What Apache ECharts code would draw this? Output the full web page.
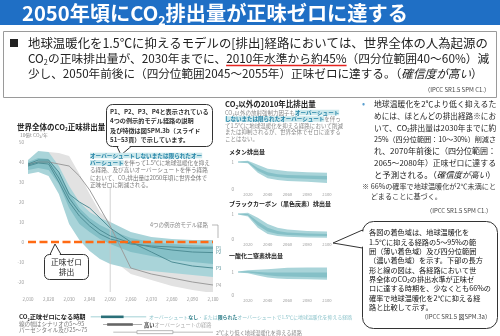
<!DOCTYPE html>
<html><head><meta charset="utf-8">
<script src="https://cdn.jsdelivr.net/npm/echarts@6.0.0/dist/echarts.min.js"></script>
<style>html,body{margin:0;padding:0;background:#fff;}#c{width:500px;height:336px;}</style>
</head><body><div id="c"></div>
<script>
window.onerror = function (m) { const d = document.createElement('div'); d.style.cssText = 'position:absolute;left:0;top:150px;color:red;font-size:9px;background:#fff;width:500px'; d.textContent = 'ERR ' + m; document.body.appendChild(d); };
// ---------------- data ----------------
const years = [2010, 2015, 2020, 2025, 2030, 2035, 2040, 2045, 2050, 2060, 2070, 2080, 2090, 2100];
const co2TealOuterUpper = [41, 45.5, 45, 38, 28, 20, 15, 12, 10, 5, 2.5, 1.5, 1, 1];
const co2TealOuterLower = [34, 35, 33, 24, 9, 1, -4.5, -8.5, -11, -13.5, -14.5, -15.5, -16.5, -17.5];
const co2TealInnerUpper = [40, 42, 41.5, 35, 25, 17, 12, 8.5, 6, 2, 0, -1, -1.5, -2];
const co2TealInnerLower = [36, 37, 36, 29, 17, 9, 5, 1.5, -1, -5, -7, -9, -10, -11];
const co2GrayUpper = [40, 43, 45, 44.5, 43, 34, 24, 15, 10, 4, 2, 1, 1, 1];
const co2GrayLower = [36, 37, 36, 33, 22, 10, 0, -5, -8, -16, -19, -22, -24, -25.5];
const pathP1 = [38, 39.5, 39, 30, 20, 13, 8, 4, 1.5, -1, -2, -2.5, -3, -3];
const pathP2 = [38.5, 40, 40, 32, 22, 15, 10, 6, 3, -0.5, -2.5, -4, -5, -5.3];
const pathP3 = [39, 41, 41, 35, 24, 20, 17, 12, 7, 0, -5, -10, -12, -13];
const pathP4 = [39, 40, 40, 39, 38, 33, 26, 17, 8, -13, -16, -18, -20, -21.5];
const pathNames = ['P1', 'P2', 'P3', 'P4'];
const netZeroLevel = 0;
const markYear = 2050;

const subYears = [2010, 2020, 2030, 2040, 2050, 2060, 2080, 2100];
const ch4OuterUpper = [1.02, 1.05, 0.9, 0.75, 0.7, 0.66, 0.62, 0.6];
const ch4OuterLower = [0.98, 0.95, 0.6, 0.4, 0.33, 0.3, 0.27, 0.22];
const ch4InnerUpper = [1.01, 1.02, 0.78, 0.62, 0.55, 0.52, 0.5, 0.48];
const ch4InnerLower = [0.99, 0.98, 0.68, 0.5, 0.44, 0.41, 0.38, 0.35];
const bcOuterUpper = [1.02, 1.05, 0.85, 0.6, 0.45, 0.38, 0.32, 0.3];
const bcOuterLower = [0.98, 0.9, 0.45, 0.2, 0.12, 0.09, 0.06, 0.05];
const bcInnerUpper = [1.01, 1.0, 0.7, 0.45, 0.32, 0.26, 0.22, 0.2];
const bcInnerLower = [0.99, 0.95, 0.55, 0.3, 0.2, 0.16, 0.13, 0.12];
const n2oOuterUpper = [1.02, 1.08, 1.1, 1.12, 1.15, 1.18, 1.2, 1.2];
const n2oOuterLower = [0.98, 0.95, 0.85, 0.76, 0.72, 0.7, 0.68, 0.66];
const n2oInnerUpper = [1.01, 1.03, 1.0, 0.98, 0.98, 0.98, 0.98, 0.98];
const n2oInnerLower = [0.99, 0.98, 0.92, 0.86, 0.82, 0.8, 0.78, 0.76];

const nzRows = ['1.5℃（オーバーシュートなし・限定的）', '高いオーバーシュート', '2℃未満'];
const nzP5 = [2040.5, 2046.5, 2051.5];
const nzP25 = [2045.5, 2048.5, 2063];
const nzP75 = [2056.5, 2061, 2080.5];
const nzP95 = [2067.5, 2065.5, 2100];

// ---------------- helpers ----------------
const FF = '"Noto Sans CJK JP","Noto Sans",sans-serif';
const mctx = document.createElement('canvas').getContext('2d');
function tw(s, size, weight) { mctx.font = (weight || 'normal') + ' ' + size + 'px ' + FF; return mctx.measureText(s).width; }
function strip(s) { return s.replace(/\{[a-z]+\|([^}]*)\}/g, '$1'); }
function fit(s, base, maxW, weight) { const w = tw(strip(s), base, weight); return w > maxW ? base * maxW / w : base; }
function fitAll(arr, base, maxW, weight) { return Math.min.apply(null, arr.map(s => fit(s, base, maxW, weight))); }

const G = [];
function T(x, y, text, o) {
  G.push({ type: 'text', x: x, y: y, silent: true, z: 100,
    style: Object.assign({ text: text, fontFamily: FF, fontSize: 8, fill: '#222', align: 'left', verticalAlign: 'middle' }, o || {}) });
}
function R(x, y, w, h, o) { G.push({ type: 'rect', silent: true, z: 90, shape: Object.assign({ x: x, y: y, width: w, height: h }, o.shape || {}), style: o.style }); }
function L(pts, o) { G.push({ type: 'polyline', silent: true, z: 95, shape: { points: pts }, style: Object.assign({ fill: null, stroke: '#333', lineWidth: 1 }, o || {}) }); }
function P(pts, o) { G.push({ type: 'polygon', silent: true, z: 91, shape: { points: pts }, style: o }); }
function sub(fs, extra) { return Object.assign({ fontSize: fs * 0.62, fontFamily: FF, verticalAlign: 'bottom', lineHeight: fs * 0.8 }, extra || {}); }

// ---------------- title ----------------
R(0, 0, 500, 25, { style: { fill: '#1f6fc5' } });
{
  const fs = Math.min(21, 21 * 386 / (tw('2050年頃にCO排出量が正味ゼロに達する', 21, 'bold') + tw('2', 13, 'bold')));
  T(22, 13.5, '2050年頃にCO{s|2}排出量が正味ゼロに達する', { fontSize: fs, fontWeight: 'bold', fill: '#fff', lineHeight: fs * 1.3,
    rich: { s: sub(fs, { fill: '#fff', fontWeight: 'bold' }) } });
}
// ---------------- top box ----------------
R(3.5, 31.5, 493, 66, { style: { fill: null, stroke: '#9a9a9a', lineWidth: 1 } });
T(9, 43, '■', { fontSize: 10 });
{
  const l1 = '地球温暖化を1.5℃に抑えるモデルの[排出]経路においては、世界全体の人為起源の';
  T(28, 43, l1, { fontSize: fit(l1, 12.5, 460) });
  const a = 'CO', b = 'の正味排出量が、2030年までに、', u = '2010年水準から約45%', c = '（四分位範囲40～60%）減';
  let fs = 12.5;
  const w0 = tw(a, fs) + tw('2', fs * 0.62) + tw(b, fs) + tw(u, fs) + tw(c, fs);
  if (w0 > 462) fs = fs * 462 / w0;
  T(28, 58.5, a + '{s|2}' + b + u + c, { fontSize: fs, lineHeight: fs * 1.3, rich: { s: sub(fs, { fill: '#222' }) } });
  const us = 28 + tw(a, fs) + tw('2', fs * 0.62) + tw(b, fs);
  const ue = us + tw(u, fs);
  L([[us, 65.5], [ue, 65.5]], { stroke: '#e5231f', lineWidth: 1.3 });
  const l3 = '少し、2050年前後に（四分位範囲2045～2055年）正味ゼロに達する。（{i|確信度が高い}）';
  const f3 = fit(l3, 12.5, 455);
  T(28, 74, l3, { fontSize: f3, rich: { i: { fontStyle: 'italic', fontSize: f3, fontFamily: FF, fill: '#222' } } });
  T(490, 90, '（IPCC SR1.5 SPM C1.）', { fontSize: 6, fill: '#444', align: 'right' });
}
// ---------------- main chart annotations ----------------
T(17, 127, '世界全体のCO{s|2}正味排出量', { fontSize: 7.5, fontWeight: 'bold', lineHeight: 9.5, rich: { s: sub(7.5, { fontWeight: 'bold', fill: '#222' }) } });
T(20, 135.5, '10億t CO₂/年', { fontSize: 4.8, fill: '#888' });
R(106.5, 104.5, 106, 42, { shape: { r: 6 }, style: { fill: '#fff', stroke: '#333', lineWidth: 1 } });
P([[117, 146.5], [121, 155], [131, 146.5]], { fill: '#fff', stroke: '#333', lineWidth: 1 });
L([[118.3, 146.5], [129.7, 146.5]], { stroke: '#fff', lineWidth: 1.6 });
{
  const bl = ['P1、P2、P3、P4と表示されている', '4つの例示的モデル経路の説明', '及び特徴は図SPM.3b（スライド', '51~53頁）で示しています。'];
  const fs = fitAll(bl, 7.8, 99, 'bold');
  bl.forEach((s, i) => T(110, 111.5 + i * 9.5, s, { fontSize: fs, fontWeight: 'bold', fill: '#333' }));
}
{
  const tl = ['{h|オーバーシュートしないまたは限られたオー}', '{h|バーシュート}を伴って1.5℃に地球温暖化を抑え', 'る経路、及び高いオーバーシュートを伴う経路', 'において、CO₂排出量は2050年頃に世界全体で', '正味ゼロに削減される。'];
  const fs = fitAll(tl, 5.8, 120);
  tl.forEach((s, i) => T(90, 155.5 + i * 7.4, s, { fontSize: fs, fill: '#777',
    rich: { h: { fontSize: fs, fontFamily: FF, fill: '#2483a6', fontWeight: 'bold', backgroundColor: '#cbe8ec' } } }));
}
T(150, 225, '4つの例示的モデル経路', { fontSize: 5.5, fill: '#888' });
L([[212, 225], [218, 225], [218, 238]], { stroke: '#999', lineWidth: 0.7 });
R(44.5, 254.5, 44, 25, { shape: { r: 5 }, style: { fill: '#fff', stroke: '#333', lineWidth: 1 } });
P([[50, 254.5], [55, 244], [61, 254.5]], { fill: '#fff', stroke: '#333', lineWidth: 1 });
L([[51.2, 254.5], [59.8, 254.5]], { stroke: '#fff', lineWidth: 1.6 });
T(66.5, 262, '正味ゼロ', { fontSize: 7.8, align: 'center', fill: '#222' });
T(66.5, 272.5, '排出', { fontSize: 7.8, align: 'center', fill: '#222' });

// ---------------- middle column ----------------
T(225, 104.5, 'CO{s|2}以外の2010年比排出量', { fontSize: 7.5, fontWeight: 'bold', lineHeight: 9.5, rich: { s: sub(7.5, { fontWeight: 'bold', fill: '#222' }) } });
{
  const ml = ['CO₂以外の放射強制力因子も{h|オーバーシュート}', '{h|しないまたは限られたオーバーシュート}を伴っ', 'て1.5℃に地球温暖化を抑える経路において削減', 'または抑制されるが、世界全体でゼロに達する', 'ことはない。'];
  const fs = fitAll(ml, 5.6, 118);
  ml.forEach((s, i) => T(225, 112.5 + i * 6.6, s, { fontSize: fs, fill: '#888',
    rich: { h: { fontSize: fs, fontFamily: FF, fill: '#2483a6', fontWeight: 'bold', backgroundColor: '#cbe8ec' } } }));
}
T(229, 152, 'メタン排出量', { fontSize: 6, fontWeight: 'bold' });
T(229, 204, 'ブラックカーボン（黒色炭素）排出量', { fontSize: 6, fontWeight: 'bold' });
T(229, 256, '一酸化二窒素排出量', { fontSize: 6, fontWeight: 'bold' });

// ---------------- right column ----------------
T(362, 104, '•', { fontSize: 9, fill: '#5b9fcf' });
{
  const rl = ['地球温暖化を2℃より低く抑えるた', 'めには、ほとんどの排出経路※にお', 'いて、CO₂排出量は2030年までに約', '25%（四分位範囲：10～30%）削減さ', 'れ、2070年前後に（四分位範囲：', '2065～2080年）正味ゼロに達する', 'と予測される。（{i|確信度が高い}）'];
  rl.forEach((s, i) => { const fs = fit(s, 8.4, 122); T(374, 104 + i * 11.8, s, { fontSize: fs, fill: '#222',
    rich: { i: { fontStyle: 'italic', fontSize: fs, fontFamily: FF, fill: '#222' } } }); });
  const nl = ['※ 66%の確率で地球温暖化が2℃未満にと', '　 どまることに基づく。'];
  const f2 = fitAll(nl, 7.2, 134);
  nl.forEach((s, i) => T(362, 186 + i * 10, s, { fontSize: f2, fill: '#333' }));
  T(492, 211, '（IPCC SR1.5 SPM C1.）', { fontSize: 6, fill: '#444', align: 'right' });
}
R(362.5, 221.5, 135, 107, { shape: { r: 11 }, style: { fill: '#fff', stroke: '#333', lineWidth: 1 } });
P([[362.5, 230], [333, 243], [362.5, 248]], { fill: '#fff', stroke: '#333', lineWidth: 1 });
L([[362.5, 231.3], [362.5, 246.7]], { stroke: '#fff', lineWidth: 1.6 });
{
  const bl = ['各図の着色域は、地球温暖化を', '1.5℃に抑える経路の5～95%の範', '囲（薄い着色域）及び四分位範囲', '（濃い着色域）を示す。下部の長方', '形と線の図は、各経路において世', '界全体のCO₂の排出水準が正味ゼ', 'ロに達する時期を、少なくとも66%の', '確率で地球温暖化を2℃に抑える経', '路と比較して示す。'];
  const fs = fitAll(bl, 8, 122);
  bl.forEach((s, i) => T(369, 232.5 + i * 9.35, s, { fontSize: fs, fill: '#111' }));
  T(491, 317, '（IPCC SR1.5 図SPM.3a）', { fontSize: 6, fill: '#444', align: 'right' });
}
// ---------------- bottom legend texts ----------------
T(19, 317, 'CO{s|2}正味ゼロになる時期', { fontSize: 6.2, fontWeight: 'bold', lineHeight: 8, rich: { s: sub(6.2, { fontWeight: 'bold', fill: '#222' }) } });
T(19, 323.5, '線の幅はシナリオの5～95', { fontSize: 5.6, fill: '#777' });
T(19, 330, 'パーセンタイル及び25～75', { fontSize: 5.6, fill: '#777' });
{
  const s1 = 'オーバーシュート{b|なし}・または{b|限られた}オーバーシュートで1.5℃に地球温暖化を抑える経路';
  const f1 = fit(s1, 5.2, 203);
  T(149, 317, s1, { fontSize: f1, fill: '#8fc5cc', rich: { b: { fontSize: f1, fontFamily: FF, fontWeight: 'bold', fill: '#2b7c87' } } });
  T(144, 325, '{b|高い}オーバーシュートの経路', { fontSize: 5.2, fill: '#aaa', rich: { b: { fontSize: 5.2, fontFamily: FF, fontWeight: 'bold', fill: '#333' } } });
  T(216, 333, '2℃より低く地球温暖化を抑える経路', { fontSize: 5.2, fill: '#888' });
}

// ---------------- chart option ----------------
function pairs(xs, ys) { return xs.map((x, i) => [x, ys[i]]); }
// band polygon drawn through the axis scales (api.coord)
function band(xs, lo, hi, color, ai, z) {
  return { type: 'custom', xAxisIndex: ai, yAxisIndex: ai, silent: true, z: z || 2, clip: true,
    data: xs.map((x, i) => [x, lo[i], hi[i]]),
    encode: { x: 0, y: [1, 2] },
    renderItem: function (params, api) {
      if (params.dataIndex !== 0) return null;
      const up = [], dn = [];
      for (let i = 0; i < xs.length; i++) {
        up.push(api.coord([xs[i], hi[i]]));
        dn.push(api.coord([xs[i], lo[i]]));
      }
      return { type: 'polygon', shape: { points: up.concat(dn.reverse()) }, style: { fill: color, stroke: null } };
    } };
}
function pline(vals, name, color) {
  return { type: 'line', xAxisIndex: 0, yAxisIndex: 0, data: pairs(years, vals), symbol: 'none', silent: true, z: 5,
    lineStyle: { color: color, width: 1 },
    endLabel: { show: true, formatter: name, fontSize: 4.5, color: color, distance: 3, fontFamily: FF } };
}
const LIGHT = '#a9d4d9', DARK = '#85c0c7', GRAY = '#e2e2e2';
const xMain = { type: 'value', gridIndex: 0, min: 2010, max: 2100, interval: 10, axisLine: { show: false }, axisTick: { show: false }, splitLine: { show: false },
  axisLabel: { fontSize: 4.5, color: '#999', margin: 5, fontFamily: FF } };
function xSmall(i) {
  return { type: 'value', gridIndex: i, min: 2010, max: 2100, interval: 10, axisLine: { show: false }, axisTick: { show: false }, splitLine: { show: false },
    axisLabel: { show: true, fontSize: 4.2, color: '#999', margin: 3, fontFamily: FF, formatter: function (v) { return v % 20 === 0 ? String(v) : ''; } } };
}
function ySmall(i, max) {
  return { type: 'value', gridIndex: i, min: 0, max: max, interval: 1, axisLine: { show: false }, axisTick: { show: false }, splitLine: { show: false },
    axisLabel: { show: true, fontSize: 4.5, color: '#999', margin: 4, fontFamily: FF, formatter: function (v) { return (v === 0 || v === 1) ? String(v) : ''; } } };
}
const nzStyles = [
  { thin: '#8cc5cc', fill: '#2a6f78', stroke: null, lw: 0, h: 2.6 },
  { thin: '#9a9a9a', fill: '#666', stroke: null, lw: 0, h: 2.6 },
  { thin: '#aaa', fill: '#fff', stroke: '#999', lw: 0.7, h: 3 }
];

const option = {
  animation: false,
  grid: [
    { left: 28, top: 142, width: 185, height: 150 },
    { left: 238, top: 156.6, width: 89, height: 32.4 },
    { left: 238, top: 209, width: 89, height: 30 },
    { left: 238, top: 265.1, width: 89, height: 29.9 },
    { left: 28, top: 313, width: 185, height: 24 }
  ],
  xAxis: [
    xMain, xSmall(1), xSmall(2), xSmall(3),
    { type: 'value', gridIndex: 4, min: 2010, max: 2100, show: false }
  ],
  yAxis: [
    { type: 'value', gridIndex: 0, min: -25, max: 50, interval: 5, axisLine: { show: false }, axisTick: { show: false }, splitLine: { show: false },
      axisLabel: { fontSize: 4.5, color: '#999', margin: 4, fontFamily: FF, formatter: function (v) { return v % 10 === 0 ? String(v) : ''; } } },
    ySmall(1, 1.2), ySmall(2, 1.2), ySmall(3, 1.3),
    { type: 'category', gridIndex: 4, data: nzRows, inverse: true, show: false }
  ],
  graphic: { elements: G },
  series: [
    band(years, co2GrayLower, co2GrayUpper, GRAY, 0, 1),
    band(years, co2TealOuterLower, co2TealOuterUpper, LIGHT, 0, 2),
    band(years, co2TealInnerLower, co2TealInnerUpper, DARK, 0, 3),
    pline(pathP4, pathNames[3], '#9c9c9c'), pline(pathP3, pathNames[2], '#4f8e96'), pline(pathP2, pathNames[1], '#4f8e96'), pline(pathP1, pathNames[0], '#4f8e96'),
    { type: 'line', xAxisIndex: 0, yAxisIndex: 0, symbol: 'none', silent: true, z: 4,
      data: [[markYear, -25], [markYear, 27]], lineStyle: { color: '#c8c8c8', width: 0.8 } },
    { type: 'line', xAxisIndex: 0, yAxisIndex: 0, symbol: 'none', silent: true, z: 10,
      data: [[years[0], netZeroLevel], [years[years.length - 1], netZeroLevel]],
      lineStyle: { color: '#ff6a13', width: 2.5, type: [8, 3.5] } },
    band(subYears, ch4OuterLower, ch4OuterUpper, LIGHT, 1, 2),
    band(subYears, ch4InnerLower, ch4InnerUpper, DARK, 1, 3),
    band(subYears, bcOuterLower, bcOuterUpper, LIGHT, 2, 2),
    band(subYears, bcInnerLower, bcInnerUpper, DARK, 2, 3),
    band(subYears, n2oOuterLower, n2oOuterUpper, LIGHT, 3, 2),
    band(subYears, n2oInnerLower, n2oInnerUpper, DARK, 3, 3),
    { type: 'custom', xAxisIndex: 4, yAxisIndex: 4, silent: true,
      data: nzRows.map((r, i) => [i, nzP5[i], nzP25[i], nzP75[i], nzP95[i]]),
      encode: { x: [1, 2, 3, 4], y: 0 },
      renderItem: function (params, api) {
        const r = api.value(0);
        const a = api.coord([api.value(1), r]), b = api.coord([api.value(2), r]), c = api.coord([api.value(3), r]), d = api.coord([api.value(4), r]);
        const st = nzStyles[r];
        return { type: 'group', children: [
          { type: 'line', shape: { x1: a[0], y1: a[1], x2: d[0], y2: d[1] }, style: { stroke: st.thin, lineWidth: 0.8 } },
          { type: 'rect', shape: { x: b[0], y: b[1] - st.h / 2, width: c[0] - b[0], height: st.h }, style: { fill: st.fill, stroke: st.stroke, lineWidth: st.lw } }
        ] };
      } }
  ]
};
const chart = echarts.init(document.getElementById('c'), null, { renderer: 'canvas', width: 500, height: 336 });
try { chart.setOption(option); } catch (e) { window.onerror(e.message + ' ' + e.stack); }
</script>
</body></html>
